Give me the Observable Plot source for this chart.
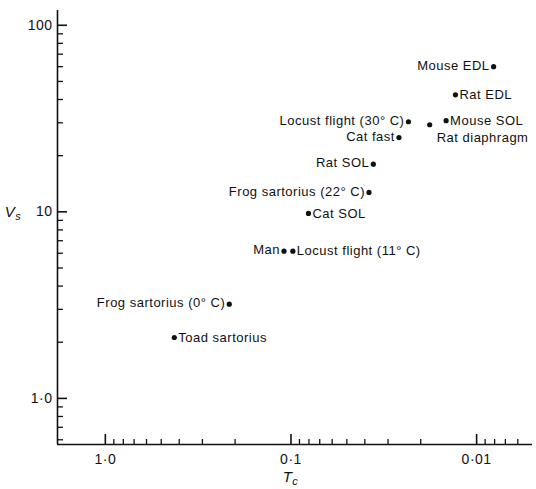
<!DOCTYPE html>
<html><head><meta charset="utf-8">
<script src="https://cdn.jsdelivr.net/npm/d3@7"></script>
<script src="https://cdn.jsdelivr.net/npm/@observablehq/plot@0.6"></script>
<style>
body{margin:0;background:#fff;}
#chart svg text{letter-spacing:0.5px;}
</style></head><body><div id="chart"></div>
<script>
// Data
const muscles = ["Mouse EDL","Rat EDL","Locust flight (30° C)","Mouse SOL","Rat diaphragm","Cat fast","Rat SOL","Frog sartorius (22° C)","Cat SOL","Man","Locust flight (11° C)","Frog sartorius (0° C)","Toad sartorius"];
const Tc = [0.0081,0.0130,0.0233,0.0146,0.0179,0.0262,0.0360,0.0380,0.0805,0.109,0.0977,0.215,0.425];
const Vs = [60,42.4,30.4,30.8,29.3,25,18,12.7,9.8,6.15,6.15,3.2,2.12];
const labelSide = ["left","right","left","right","below","left","left","left","right","left","right","left","right"];

const xMajor = [1,0.1,0.01];
const xMajorLabels = ["1·0","0·1","0·01"];
const xMinor = [0.9,0.8,0.7,0.6,0.5,0.4,0.3,0.2,0.09,0.08,0.07,0.06,0.05,0.04,0.03,0.02,0.009,0.008,0.007,0.006];
const yMajor = [1,10,100];
const yMajorLabels = ["1·0","10","100"];
const yMinor = [90,80,70,60,50,40,30,20,9,8,7,6,5,4,3,2,0.9,0.8,0.7,0.6];
const xDomain = [1.81,0.005];
const yDomain = [0.566,120];

const data = muscles.map((m,i)=>({name:m,T:Tc[i],V:Vs[i],side:labelSide[i]}));
const ink = "#111";
const font = "Liberation Sans, Arial, sans-serif";

const plot = Plot.plot({
  width: 536, height: 489,
  marginLeft: 57, marginRight: 4, marginTop: 10, marginBottom: 45,
  style: {fontFamily: font, color: ink, background: "#fff"},
  x: {type: "log", domain: xDomain},
  y: {type: "log", domain: yDomain},
  marks: [
    Plot.ruleX([xDomain[0]], {stroke: ink, strokeWidth: 1.6}),
    Plot.ruleY([yDomain[0]], {stroke: ink, strokeWidth: 1.6}),
    Plot.axisY(yMinor, {tickSize: -6, tickFormat: () => "", label: null, stroke: ink, strokeWidth: 1.3}),
    Plot.axisY(yMajor, {tickSize: -10, tickFormat: () => "", label: null, stroke: ink, strokeWidth: 1.6}),
    Plot.axisY(yMajor, {tickSize: 0, tickPadding: 5, fontSize: 14, tickFormat: d => yMajorLabels[yMajor.indexOf(d)], label: null, fill: ink}),
    Plot.axisX(xMinor, {tickSize: -5, tickFormat: () => "", label: null, stroke: ink, strokeWidth: 1.3}),
    Plot.axisX(xMajor, {tickSize: -10, tickFormat: () => "", label: null, stroke: ink, strokeWidth: 1.6}),
    Plot.axisX(xMajor, {tickSize: 0, tickPadding: 10, fontSize: 14, tickFormat: d => xMajorLabels[xMajor.indexOf(d)], label: null, fill: ink}),
    Plot.dot(data, {x: "T", y: "V", r: 2.6, fill: ink, stroke: null}),
    Plot.text(data.filter(d => d.side === "left"), {x: "T", y: "V", text: "name", textAnchor: "end", dx: -4, dy: -1, fontSize: 13, fill: ink}),
    Plot.text(data.filter(d => d.side === "right"), {x: "T", y: "V", text: "name", textAnchor: "start", dx: 4, dy: 0, fontSize: 13, fill: ink}),
    Plot.text(data.filter(d => d.side === "below"), {x: "T", y: "V", text: "name", textAnchor: "start", dx: 7, dy: 13, fontSize: 13, fill: ink})
  ]
});

const svg = d3.select(plot);
const sx = plot.scale("x"), sy = plot.scale("y");
const vl = svg.append("text").attr("x", 13).attr("y", sy.apply(10)).attr("dy", "0.35em")
  .attr("font-family", font).attr("font-size", 15).attr("fill", ink);
vl.append("tspan").attr("font-style", "italic").text("V");
vl.append("tspan").attr("font-style", "italic").attr("font-size", 11).attr("dy", 3).text("s");
const tl = svg.append("text").attr("x", sx.apply(0.1)).attr("y", 482).attr("text-anchor", "middle")
  .attr("font-family", font).attr("font-size", 15).attr("fill", ink);
tl.append("tspan").attr("font-style", "italic").text("T");
tl.append("tspan").attr("font-style", "italic").attr("font-size", 11).attr("dy", 3).text("c");

document.getElementById("chart").append(plot);
</script>
</body></html>
